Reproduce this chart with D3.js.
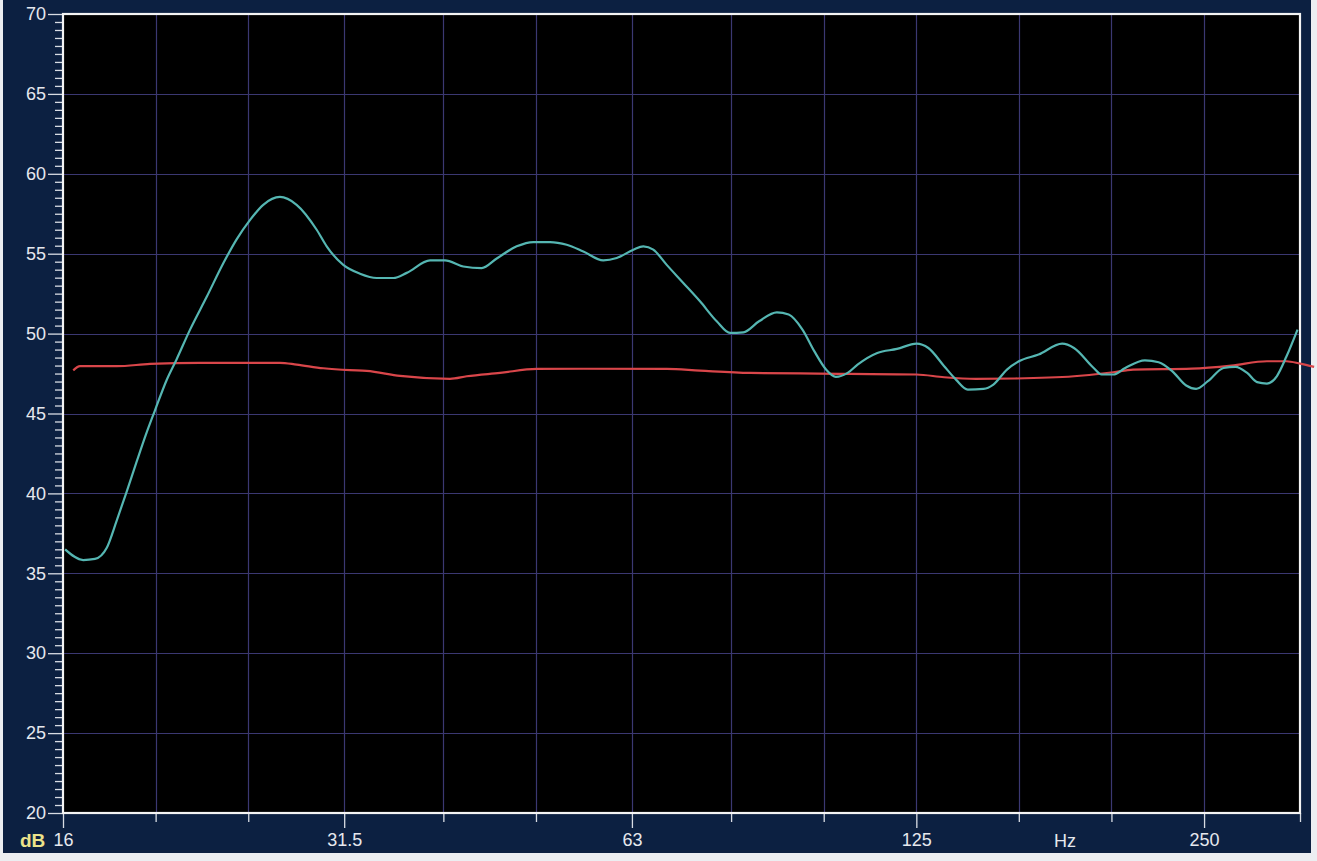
<!DOCTYPE html>
<html><head><meta charset="utf-8">
<script src="https://cdn.jsdelivr.net/npm/d3@7"></script>
<style>html,body{margin:0;padding:0;background:#eceef1;overflow:hidden}svg{display:block}</style>
</head><body><svg id="c" width="1317" height="861"></svg>
<script>
// ---- data ----
const freqGrid = [16, 20, 25, 31.5, 40, 50, 63, 80, 100, 125, 160, 200, 250, 315];
const freqLabelValues = [16, 31.5, 63, 125, 250];
const freqLabelTexts = ["16", "31.5", "63", "125", "250"];
const dbMajor = [20, 25, 30, 35, 40, 45, 50, 55, 60, 65, 70];
const dbLabelTexts = ["20", "25", "30", "35", "40", "45", "50", "55", "60", "65", "70"];

const measuredFreq = [16.08, 16.8, 17.28, 17.78, 18.21, 18.65, 19.11, 19.57, 19.97, 20.54, 21.04, 21.73, 22.62, 23.54, 24.31, 25.1, 25.92, 26.98, 28.09, 29.48, 30.2, 31.43, 32.72, 34.06, 35.46, 36.62, 38.74, 40.16, 41.97, 43.87, 45.49, 47.73, 49.68, 51.72, 53.84, 56.04, 58.8, 60.74, 63.22, 64.76, 66.33, 68.51, 71.3, 74.23, 77.28, 79.8, 82.4, 85.58, 89.33, 91.91, 95.01, 97.75, 100.57, 102.97, 105.94, 108.5, 113.78, 119.3, 125.06, 128.67, 133.67, 137.52, 141.49, 146.98, 150.49, 155.5, 160.02, 167.79, 177.62, 182.74, 191.63, 195.31, 200.94, 206.75, 216.78, 224.11, 231.63, 239.46, 245.25, 252.32, 262.03, 269.58, 277.36, 284.06, 290.91, 297.86, 304.96, 313.15];
const measuredDb = [36.5, 35.83, 35.9, 36.6, 38.3, 40.1, 42.0, 43.8, 45.2, 47.1, 48.4, 50.25, 52.3, 54.4, 55.9, 57.1, 58.06, 58.55, 58.06, 56.5, 55.46, 54.3, 53.75, 53.48, 53.48, 53.8, 54.58, 54.58, 54.2, 54.1, 54.7, 55.46, 55.73, 55.73, 55.56, 55.14, 54.58, 54.73, 55.25, 55.46, 55.25, 54.3, 53.17, 52.02, 50.77, 50.04, 50.08, 50.77, 51.33, 51.19, 50.25, 48.9, 47.75, 47.29, 47.54, 48.06, 48.79, 49.04, 49.37, 49.1, 47.96, 47.12, 46.5, 46.54, 46.81, 47.75, 48.27, 48.69, 49.37, 49.1, 47.85, 47.44, 47.44, 47.85, 48.33, 48.21, 47.64, 46.75, 46.54, 47.02, 47.85, 47.92, 47.54, 46.96, 46.87, 47.33, 48.58, 50.25];

const targetFreq = [16.4, 16.67, 18.21, 19.73, 22.26, 26.98, 28.09, 29.95, 31.94, 33.25, 36.04, 40.65, 42.32, 45.85, 50.09, 56.04, 68.51, 74.23, 83.74, 98.65, 125.06, 133.67, 144.21, 158.53, 182.74, 200.94, 210.66, 242.83, 267.06, 290.91, 304.96, 315, 325.9];
const targetDb = [47.7, 47.96, 47.96, 48.1, 48.17, 48.17, 48.06, 47.83, 47.71, 47.67, 47.35, 47.17, 47.33, 47.54, 47.79, 47.8, 47.79, 47.68, 47.54, 47.5, 47.44, 47.27, 47.17, 47.19, 47.33, 47.58, 47.75, 47.81, 48.0, 48.27, 48.27, 48.12, 47.92];

// ---- layout ----
const W = 1317, H = 861;
const L = 63, R = 1300, T = 14, B = 813;
const svg = d3.select("#c");
const font = "'Liberation Sans', Arial, sans-serif";

svg.append("rect").attr("x", 0).attr("y", 0).attr("width", W).attr("height", H).attr("fill", "#eceef1");
svg.append("rect").attr("x", 3).attr("y", 0).attr("width", 1308).attr("height", 853).attr("fill", "#0c2041");

const x = d3.scaleLog().domain([16, 315]).range([L, R]);
const y = d3.scaleLinear().domain([20, 70]).range([B, T]);

svg.append("rect").attr("x", L).attr("y", T).attr("width", R - L).attr("height", B - T).attr("fill", "#000");

// grid
const grid = svg.append("g").attr("stroke", "#3b3872").attr("stroke-width", 1.2);
grid.selectAll("line.v").data(freqGrid.slice(1, -1)).join("line")
  .attr("x1", d => Math.round(x(d)) + 0.5).attr("x2", d => Math.round(x(d)) + 0.5)
  .attr("y1", T).attr("y2", B);
grid.selectAll("line.h").data(dbMajor.slice(1, -1)).join("line")
  .attr("y1", d => Math.round(y(d)) + 0.5).attr("y2", d => Math.round(y(d)) + 0.5)
  .attr("x1", L).attr("x2", R);

// left axis (major + minor ticks)
const yAxisMajor = d3.axisLeft(y).tickValues(dbMajor).tickSize(15).tickPadding(2)
  .tickFormat((d, i) => dbLabelTexts[i]);
const gy = svg.append("g").attr("transform", `translate(${L},0)`).call(yAxisMajor);
const minor = d3.range(20, 70.01, 0.5).filter(v => v % 5 !== 0);
const gyMinor = svg.append("g").attr("transform", `translate(${L},0)`)
  .call(d3.axisLeft(y).tickValues(minor).tickSize(8).tickFormat(""));
[gy, gyMinor].forEach(g => {
  g.select(".domain").remove();
  g.selectAll(".tick line").attr("stroke", "#d8dce4").attr("stroke-width", 1.3);
});
gy.selectAll(".tick text").attr("fill", "#e6e8ee").attr("font-size", 18).attr("font-family", font);

// bottom axis
const gxLong = svg.append("g").attr("transform", `translate(0,${B})`)
  .call(d3.axisBottom(x).tickValues(freqLabelValues).tickSize(15).tickPadding(5)
    .tickFormat((d, i) => freqLabelTexts[i]));
const gxShort = svg.append("g").attr("transform", `translate(0,${B})`)
  .call(d3.axisBottom(x).tickValues(freqGrid.filter(f => !freqLabelValues.includes(f))).tickSize(9).tickFormat(""));
[gxLong, gxShort].forEach(g => {
  g.select(".domain").remove();
  g.selectAll(".tick line").attr("stroke", "#d8dce4").attr("stroke-width", 1.3);
});
gxLong.selectAll(".tick text").attr("fill", "#e6e8ee").attr("font-size", 18).attr("font-family", font);

svg.append("text").attr("x", x(Math.sqrt(160 * 200))).attr("y", 847).attr("text-anchor", "middle")
  .attr("fill", "#e6e8ee").attr("font-size", 18).attr("font-family", font).text("Hz");
svg.append("text").attr("x", 20).attr("y", 847)
  .attr("fill", "#ece38a").attr("font-size", 19).attr("font-weight", "bold").attr("font-family", font).text("dB");

// plot border
svg.append("rect").attr("x", L).attr("y", T).attr("width", R - L).attr("height", B - T)
  .attr("fill", "none").attr("stroke", "#f4f4f4").attr("stroke-width", 2.2);

// curves
const line = d3.line().x(d => x(d[0])).y(d => y(d[1])).curve(d3.curveMonotoneX);
svg.append("path").datum(targetFreq.map((f, i) => [f, targetDb[i]]))
  .attr("d", line).attr("fill", "none").attr("stroke", "#d9464a").attr("stroke-width", 2.2);
svg.append("path").datum(measuredFreq.map((f, i) => [f, measuredDb[i]]))
  .attr("d", line).attr("fill", "none").attr("stroke", "#55b6b2").attr("stroke-width", 2.2);
</script></body></html>
